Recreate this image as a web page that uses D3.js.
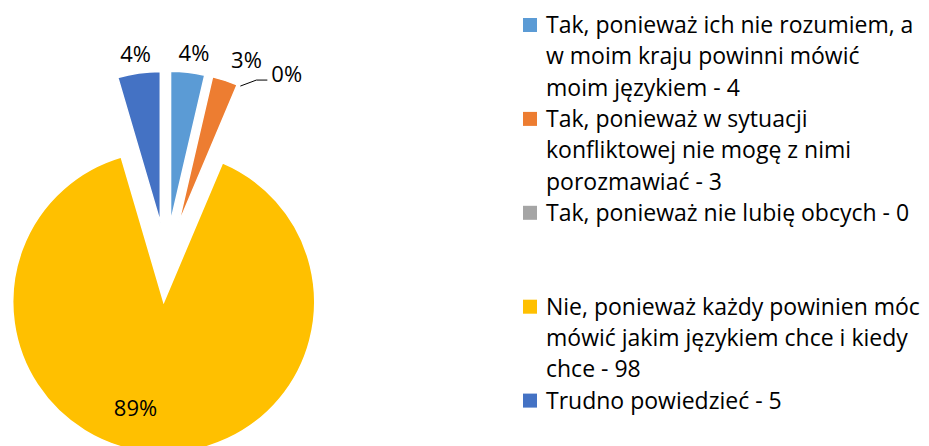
<!DOCTYPE html>
<html>
<head>
  <meta charset="utf-8">
  <script src="https://d3js.org/d3.v7.min.js"></script>
  <style>
    body { margin: 0; background: #fff; }
    text { font-family: "Open Sans", sans-serif; fill: #000; }
  </style>
</head>
<body>
<script>
// data
var categories = [
  "Tak, ponieważ ich nie rozumiem, a w moim kraju powinni mówić moim językiem - 4",
  "Tak, ponieważ w sytuacji konfliktowej nie mogę z nimi porozmawiać - 3",
  "Tak, ponieważ nie lubię obcych - 0",
  "Nie, ponieważ każdy powinien móc mówić jakim językiem chce i kiedy chce - 98",
  "Trudno powiedzieć - 5"
];
var legendLines = [
  ["Tak, ponieważ ich nie rozumiem, a", "w moim kraju powinni mówić", "moim językiem - 4"],
  ["Tak, ponieważ w sytuacji", "konfliktowej nie mogę z nimi", "porozmawiać - 3"],
  ["Tak, ponieważ nie lubię obcych - 0"],
  ["Nie, ponieważ każdy powinien móc", "mówić jakim językiem chce i kiedy", "chce - 98"],
  ["Trudno powiedzieć - 5"]
];
var values = [4, 3, 0, 98, 5];
var pctLabels = ["4%", "3%", "0%", "89%", "4%"];
var colors = ["#5B9BD5", "#ED7D31", "#A5A5A5", "#FFC000", "#4472C4"];

var width = 929, height = 446;
var cx = 166, cy = 262, R = 151, explode = 40;

var svg = d3.select("body").append("svg")
  .attr("width", width)
  .attr("height", height);

var pie = d3.pie().sort(null).value(function(d) { return d; });
var arcs = pie(values);
var arc = d3.arc().innerRadius(0).outerRadius(R);

function mid(d) { return (d.startAngle + d.endAngle) / 2; }
function apex(d) {
  var a = mid(d);
  return [cx + explode * Math.sin(a), cy - explode * Math.cos(a)];
}

var g = svg.append("g");
g.selectAll("path")
  .data(arcs)
  .enter().append("path")
  .attr("d", arc)
  .attr("transform", function(d) { var p = apex(d); return "translate(" + p[0] + "," + p[1] + ")"; })
  .attr("fill", function(d, i) { return colors[i]; })
  .attr("stroke", "#fff")
  .attr("stroke-width", 1.5);

// data labels
var labels = svg.append("g").style("font-size", "22px");
arcs.forEach(function(d, i) {
  var a = mid(d), p = apex(d), x, y;
  if (d.value === 0) {
    // zero slice gets a leader line
    var x0 = p[0] + R * Math.sin(a), y0 = p[1] - R * Math.cos(a);
    var x1 = x0 + 16, y1 = y0 - 6;
    labels.append("path")
      .attr("d", "M" + x0 + "," + y0 + "L" + x1 + "," + y1 + "H" + (x1 + 11))
      .attr("fill", "none")
      .attr("stroke", "#000")
      .attr("stroke-width", 1);
    labels.append("text")
      .attr("x", x1 + 15).attr("y", y1 - 6)
      .attr("dy", "0.35em")
      .text(pctLabels[i]);
    return;
  }
  if (d.endAngle - d.startAngle > Math.PI) {
    // big slice: label inside
    var r = R * 0.72;
    x = p[0] + r * Math.sin(a) - 22;
    y = p[1] - r * Math.cos(a) - 2;
  } else {
    var r2 = R + 19;
    x = p[0] + r2 * Math.sin(a) + Math.sin(a) * 18 + 2;
    y = p[1] - r2 * Math.cos(a);
    // pushed right by excel to clear the leader label
    if (i + 1 < values.length && values[i + 1] === 0) { x += 8; y -= 2; }
  }
  labels.append("text")
    .attr("x", x).attr("y", y)
    .attr("dy", "0.35em")
    .attr("text-anchor", "middle")
    .text(pctLabels[i]);
});

// legend
var lx = 523, ly = 33, lineH = 31.3;
var legend = svg.append("g").style("font-size", "23px");
var line = 0;
legendLines.forEach(function(lines, i) {
  if (i === 3) line += 2;
  var base = ly + line * lineH;
  legend.append("rect")
    .attr("x", lx).attr("y", base - 15)
    .attr("width", 14).attr("height", 14)
    .attr("fill", colors[i]);
  var t = legend.append("text").attr("x", lx + 24).attr("y", base);
  lines.forEach(function(s, k) {
    t.append("tspan").attr("x", lx + 23).attr("y", base + k * lineH).text(s);
  });
  line += lines.length;
});
</script>
</body>
</html>
